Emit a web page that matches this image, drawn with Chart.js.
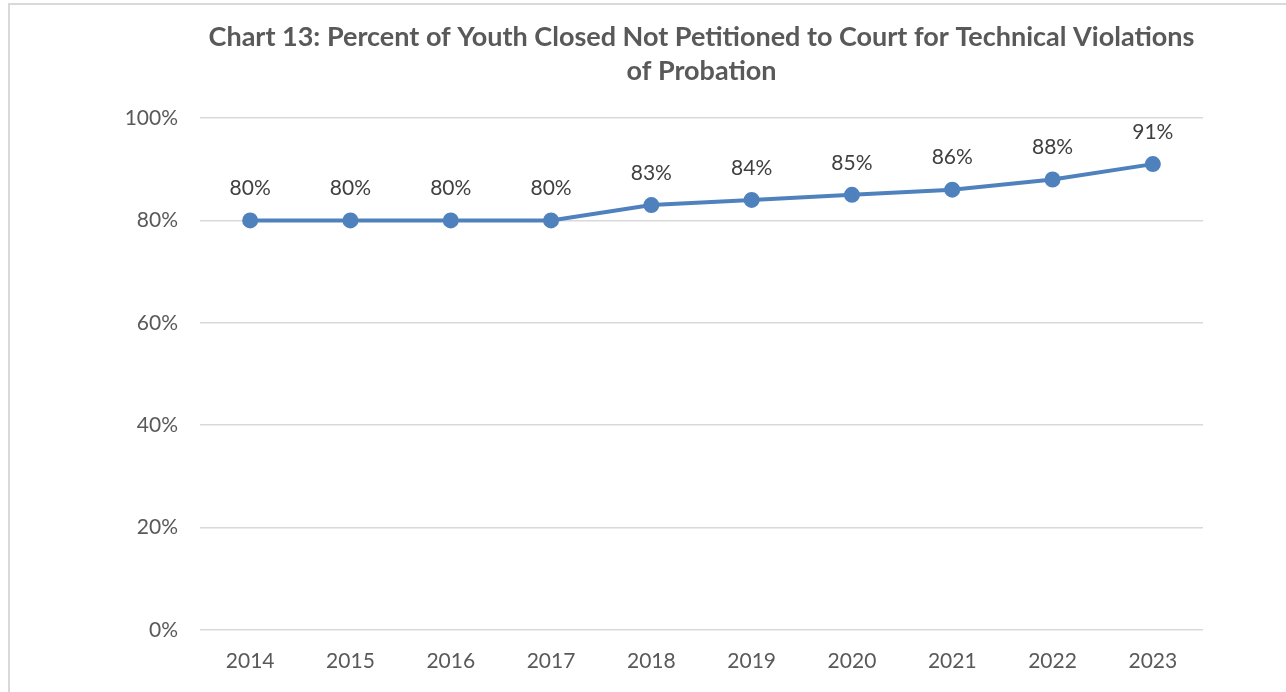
<!DOCTYPE html>
<html lang="en">
<head>
    <meta charset="utf-8">
    <title>Chart 13</title>
    <script src="https://cdn.jsdelivr.net/npm/chart.js"></script>
    <style>
        html, body { margin: 0; padding: 0; background: #fff; }
        .chart-container { position: relative; width: 1286px; height: 692px; }
    </style>
</head>
<body>
    <div class="chart-container">
        <canvas id="myChart"></canvas>
    </div>
    <script>
        // data
        const years = ['2014', '2015', '2016', '2017', '2018', '2019', '2020', '2021', '2022', '2023'];
        const percentClosed = [80, 80, 80, 80, 83, 84, 85, 86, 88, 91];
        const yTicks = [0, 20, 40, 60, 80, 100];
        const titleLines = ['Chart 13: Percent of Youth Closed Not Petitioned to Court for Technical Violations', 'of Probation'];

        const fontFamily = 'Lato, "Open Sans", sans-serif';

        // light grey frame round the chart, like the Word export
        const framePlugin = {
            id: 'frame',
            beforeDraw(chart) {
                const ctx = chart.ctx;
                ctx.save();
                ctx.strokeStyle = '#d9d9d9';
                ctx.lineWidth = 2;
                ctx.strokeRect(9, 4, chart.width + 20, chart.height + 20);
                ctx.restore();
            }
        };

        // value labels above each point
        const valueLabels = {
            id: 'valueLabels',
            afterDatasetsDraw(chart) {
                const ctx = chart.ctx;
                const meta = chart.getDatasetMeta(0);
                ctx.save();
                ctx.font = '21px ' + fontFamily;
                ctx.fillStyle = '#404040';
                ctx.textAlign = 'center';
                ctx.textBaseline = 'middle';
                meta.data.forEach((pt, i) => {
                    ctx.fillText(percentClosed[i] + '%', pt.x, pt.y - 32);
                });
                ctx.restore();
            }
        };

        new Chart(document.getElementById('myChart'), {
            type: 'line',
            data: {
                labels: years,
                datasets: [{
                    label: 'Percent closed',
                    data: percentClosed,
                    borderColor: '#4f81bd',
                    backgroundColor: '#4f81bd',
                    borderWidth: 4,
                    pointRadius: 6,
                    pointHoverRadius: 6,
                    tension: 0
                }]
            },
            options: {
                responsive: true,
                maintainAspectRatio: false,
                animation: false,
                layout: { padding: { top: 10, left: 0, right: 83, bottom: 0 } },
                plugins: {
                    legend: { display: false },
                    tooltip: { enabled: false },
                    title: {
                        display: true,
                        fullSize: false,
                        text: titleLines,
                        color: '#595959',
                        font: { family: fontFamily, size: 27, weight: 'bold', lineHeight: 1.26 },
                        padding: { top: 10, bottom: 30 }
                    }
                },
                scales: {
                    x: {
                        offset: true,
                        grid: { display: false, drawTicks: false },
                        border: { display: false },
                        ticks: { color: '#595959', padding: 19, font: { family: fontFamily, size: 21 } },
                        afterFit(scale) { scale.height = 62; }
                    },
                    y: {
                        min: 0,
                        max: 100,
                        afterBuildTicks(scale) { scale.ticks = yTicks.map(v => ({ value: v })); },
                        grid: { color: '#d9d9d9', lineWidth: 1.5, drawTicks: false },
                        border: { display: false },
                        ticks: {
                            color: '#595959',
                            padding: 22,
                            font: { family: fontFamily, size: 21 },
                            callback: v => v + '%'
                        },
                        afterFit(scale) { scale.width = 200; }
                    }
                }
            },
            plugins: [framePlugin, valueLabels]
        });
    </script>
</body>
</html>
